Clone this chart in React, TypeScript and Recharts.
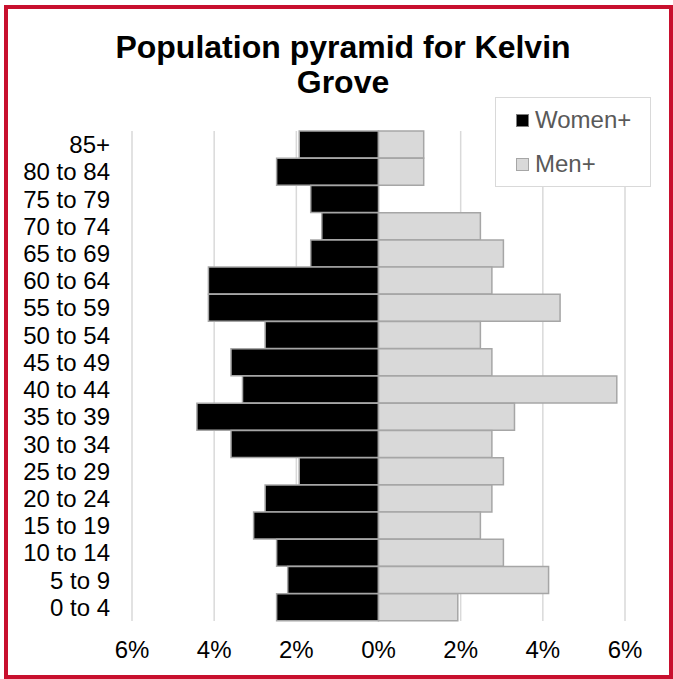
import React from "react";
import { BarChart, Bar, XAxis, YAxis, CartesianGrid } from "recharts";

const ageGroups = [
  "85+", "80 to 84", "75 to 79", "70 to 74", "65 to 69", "60 to 64",
  "55 to 59", "50 to 54", "45 to 49", "40 to 44", "35 to 39", "30 to 34",
  "25 to 29", "20 to 24", "15 to 19", "10 to 14", "5 to 9", "0 to 4",
];
const women = [
  1.93, 2.48, 1.65, 1.38, 1.65, 4.14, 4.14, 2.76, 3.59, 3.31, 4.42, 3.59,
  1.93, 2.76, 3.04, 2.48, 2.21, 2.48,
];
const men = [
  1.1, 1.1, 0, 2.48, 3.04, 2.76, 4.42, 2.48, 2.76, 5.8, 3.31, 2.76,
  3.04, 2.76, 2.48, 3.04, 4.14, 1.93,
];
const xTicks = [-6, -4, -2, 0, 2, 4, 6];

const data = ageGroups.map((age, i) => ({ age, women: -women[i], men: men[i] }));

const FONT = '"Liberation Sans", Arial, sans-serif';

const legendItems = [
  { name: "Women+", fill: "#000", stroke: "#7f7f7f", top: 8 },
  { name: "Men+", fill: "#d9d9d9", stroke: "#a6a6a6", top: 52 },
];

export default function App() {
  return (
    <div style={{ position: "absolute", left: 0, top: 0, width: 673, height: 679, background: "#fff", overflow: "hidden" }}>
      <div
        style={{
          position: "absolute",
          left: 4,
          top: 5,
          width: 669,
          height: 674,
          border: "4px solid #c8102e",
          boxSizing: "border-box",
        }}
      />
      <div
        style={{
          position: "absolute",
          left: 93,
          top: 30,
          width: 500,
          textAlign: "center",
          fontFamily: FONT,
          fontWeight: "bold",
          fontSize: 32,
          lineHeight: "35px",
          color: "#000",
        }}
      >
        Population pyramid for Kelvin
        <br />
        Grove
      </div>
      <div style={{ position: "absolute", left: 0, top: 0 }}>
        <BarChart
          width={673}
          height={679}
          data={data}
          layout="vertical"
          stackOffset="sign"
          barCategoryGap={0}
          margin={{ top: 131, right: 48, bottom: 28, left: 0 }}
        >
          <CartesianGrid horizontal={false} stroke="#d9d9d9" strokeWidth={1.5} />
          <XAxis
            type="number"
            domain={[-6, 6]}
            ticks={xTicks}
            tickFormatter={(v: number) => `${Math.abs(v)}%`}
            axisLine={false}
            tickLine={false}
            tickSize={0}
            tickMargin={20}
            height={30}
            tick={{ fill: "#000", fontSize: 24, fontFamily: FONT }}
          />
          <YAxis
            type="category"
            dataKey="age"
            width={132}
            axisLine={false}
            tickLine={false}
            tickSize={0}
            tickMargin={22}
            interval={0}
            tick={{ fill: "#000", fontSize: 24, fontFamily: FONT }}
          />
          <Bar dataKey="women" name="Women+" stackId="a" fill="#000" stroke="#a6a6a6" strokeWidth={1.5} isAnimationActive={false} />
          <Bar dataKey="men" name="Men+" stackId="a" fill="#d9d9d9" stroke="#a6a6a6" strokeWidth={1.5} isAnimationActive={false} />
        </BarChart>
      </div>
      <div
        style={{
          position: "absolute",
          left: 495,
          top: 97,
          width: 154,
          height: 88,
          border: "1px solid #d9d9d9",
          background: "#fff",
          fontFamily: FONT,
          fontSize: 24,
          color: "#595959",
        }}
      >
        {legendItems.map((it) => (
          <div key={it.name} style={{ position: "absolute", left: 20, top: it.top, display: "flex", alignItems: "center" }}>
            <span
              style={{
                display: "inline-block",
                width: 11,
                height: 11,
                background: it.fill,
                border: `1px solid ${it.stroke}`,
                marginRight: 6,
              }}
            />
            <span style={{ lineHeight: "28px" }}>{it.name}</span>
          </div>
        ))}
      </div>
    </div>
  );
}
